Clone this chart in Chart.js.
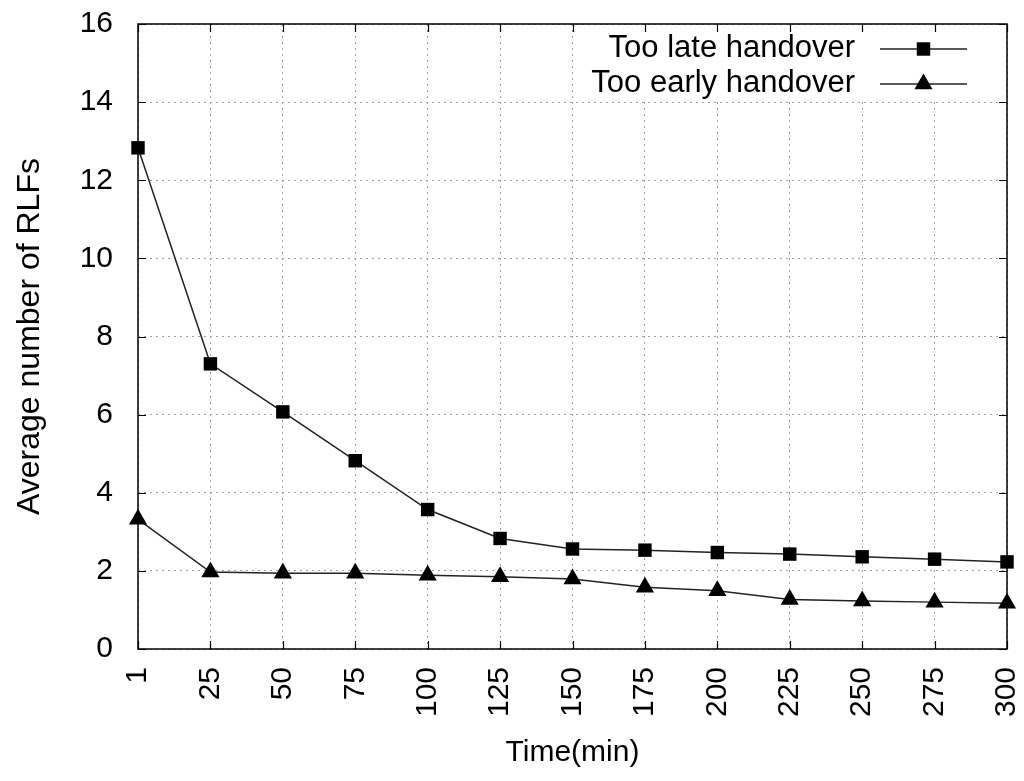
<!DOCTYPE html>
<html><head><meta charset="utf-8">
<script src="https://cdn.jsdelivr.net/npm/chart.js@4/dist/chart.umd.min.js"></script>
<style>html,body{margin:0;padding:0;background:#fff}#wrap{width:1024px;height:781px;position:relative}</style>
</head><body><div id="wrap"><canvas id="c"></canvas></div>
<script>
const categories = ['1','25','50','75','100','125','150','175','200','225','250','275','300'];
const tooLate  = [12.83, 7.30, 6.07, 4.82, 3.57, 2.83, 2.56, 2.53, 2.47, 2.43, 2.36, 2.30, 2.23];
const tooEarly = [3.32, 1.97, 1.94, 1.94, 1.89, 1.85, 1.79, 1.58, 1.49, 1.27, 1.23, 1.20, 1.17];
const yTicks = [0, 2, 4, 6, 8, 10, 12, 14, 16];
const seriesNames = ['Too late handover', 'Too early handover'];
const xTitle = 'Time(min)';
const yTitle = 'Average number of RLFs';

const FONT = "'Liberation Sans', Arial, sans-serif";
const FS = 30;
const PAD_L = 11, PAD_R = 17, PAD_T = 24, PAD_B = 10;

const framePlugin = {
  id: 'frame',
  beforeDatasetsDraw(chart) {
    const ctx = chart.ctx, a = chart.chartArea;
    const xs = chart.scales.x, ys = chart.scales.y;
    ctx.save();
    // opaque key box (gnuplot clears the area behind the key)
    ctx.fillStyle = '#fff';
    ctx.fillRect(a.right - 418, a.top + 1, 412, 75);
    ctx.strokeStyle = '#000';
    ctx.lineWidth = 1.5;
    ctx.strokeRect(a.left, a.top, a.right - a.left, a.bottom - a.top);
    ctx.lineWidth = 1.2;
    ctx.beginPath();
    const TL = 8;
    xs.ticks.forEach((t, i) => {
      const px = Math.round(xs.getPixelForTick(i)) + 0.5;
      ctx.moveTo(px, a.bottom); ctx.lineTo(px, a.bottom - TL);
      ctx.moveTo(px, a.top); ctx.lineTo(px, a.top + TL);
    });
    ys.ticks.forEach((t, i) => {
      const py = Math.round(ys.getPixelForTick(i)) + 0.5;
      ctx.moveTo(a.left, py); ctx.lineTo(a.left + TL, py);
      ctx.moveTo(a.right, py); ctx.lineTo(a.right - TL, py);
    });
    ctx.stroke();
    ctx.restore();
  }
};

const legendPlugin = {
  id: 'gpLegend',
  afterDraw(chart) {
    const ctx = chart.ctx, a = chart.chartArea;
    ctx.save();
    chart.data.datasets.forEach((ds, i) => {
      const y = a.top + 25 + i * 35;
      ctx.font = '31px ' + FONT;
      ctx.fillStyle = '#000';
      ctx.textAlign = 'right';
      ctx.textBaseline = 'middle';
      ctx.fillText(ds.label, a.right - 152, y - 1);
      ctx.strokeStyle = '#222';
      ctx.lineWidth = 1.5;
      ctx.beginPath();
      ctx.moveTo(a.right - 127, y); ctx.lineTo(a.right - 40, y);
      ctx.stroke();
      const cx = a.right - 83.5;
      ctx.fillStyle = '#000';
      ctx.beginPath();
      if (ds.pointStyle === 'rect') {
        const h = ds.pointRadius * Math.SQRT1_2;
        ctx.rect(cx - h, y - h, 2 * h, 2 * h);
      } else {
        const r = ds.pointRadius;
        ctx.moveTo(cx, y - r);
        ctx.lineTo(cx + r * Math.sin(Math.PI / 3), y + r / 2);
        ctx.lineTo(cx - r * Math.sin(Math.PI / 3), y + r / 2);
        ctx.closePath();
      }
      ctx.fill();
    });
    ctx.restore();
  }
};

new Chart(document.getElementById('c'), {
  type: 'line',
  data: {
    labels: categories,
    datasets: [
      { label: seriesNames[0], data: tooLate, borderColor: '#222', borderWidth: 1.5,
        pointStyle: 'rect', pointRadius: 9.5, pointBackgroundColor: '#000', pointBorderColor: '#000',
        pointBorderWidth: 0, tension: 0, clip: false },
      { label: seriesNames[1], data: tooEarly, borderColor: '#222', borderWidth: 1.5,
        pointStyle: 'triangle', pointRadius: 10.5, pointBackgroundColor: '#000', pointBorderColor: '#000',
        pointBorderWidth: 0, tension: 0, clip: false }
    ]
  },
  options: {
    responsive: true,
    maintainAspectRatio: false,
    devicePixelRatio: 1,
    animation: false,
    layout: { padding: { left: PAD_L, right: PAD_R, top: PAD_T, bottom: PAD_B } },
    plugins: { legend: { display: false }, tooltip: { enabled: false } },
    scales: {
      x: {
        type: 'category',
        offset: false,
        grid: { color: '#a0a0a0', lineWidth: 1, drawTicks: false },
        border: { display: false, dash: [2, 4] },
        ticks: { autoSkip: false, maxRotation: 90, minRotation: 90, padding: 18, color: '#000',
                 font: { family: FONT, size: FS } },
        title: { display: true, text: xTitle, color: '#000', font: { family: FONT, size: FS }, padding: 0 },
        afterFit(s) { s.height = 132 - PAD_B; s.paddingLeft = 0; s.paddingRight = 0; }
      },
      y: {
        min: 0, max: 16,
        grid: { color: '#a0a0a0', lineWidth: 1, drawTicks: false },
        border: { display: false, dash: [2, 4] },
        ticks: { stepSize: 2, padding: 25, color: '#000', font: { family: FONT, size: FS } },
        afterBuildTicks(s) { s.ticks = yTicks.map(v => ({ value: v })); },
        title: { display: true, text: yTitle, color: '#000', font: { family: FONT, size: 32 }, padding: 0 },
        afterFit(s) { s.width = 138 - PAD_L; s.paddingTop = 0; s.paddingBottom = 0; }
      }
    }
  },
  plugins: [framePlugin, legendPlugin]
});
</script>
</body></html>
